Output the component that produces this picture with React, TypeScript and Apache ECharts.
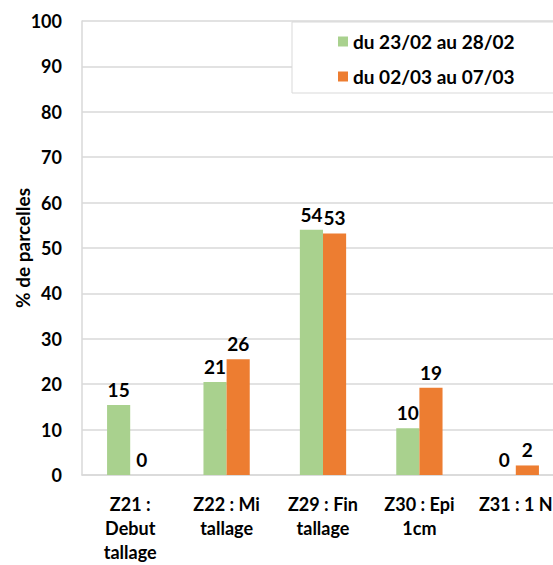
import React, { useEffect, useRef } from "react";
import * as echarts from "echarts";

const categories = [
  "Z21 :\nDebut\ntallage",
  "Z22 : Mi\ntallage",
  "Z29 : Fin\ntallage",
  "Z30 : Epi\n1cm",
  "Z31 : 1 N",
];
const seriesNames = ["du 23/02 au 28/02", "du 02/03 au 07/03"];
const period1 = [15.4, 20.5, 54.0, 10.3, 0];
const period2 = [0, 25.5, 53.2, 19.2, 2.1];
const colors = ["#a9d18e", "#ed7d31"];

const FONT = "Lato, 'Open Sans', sans-serif";

export default function App() {
  const ref = useRef<HTMLDivElement>(null);
  useEffect(() => {
    if (!ref.current) return;
    const chart = echarts.init(ref.current, undefined, { renderer: "svg" });
    const labelCfg = {
      show: true,
      position: "top",
      distance: 6,
      fontFamily: FONT,
      fontWeight: "bold",
      fontSize: 19,
      color: "#000",
      formatter: (p: any) => String(Math.round(p.value)),
    };
    chart.setOption({
      animation: false,
      textStyle: { fontFamily: FONT },
      legend: {
        orient: "vertical",
        left: 292,
        top: 22,
        padding: [10, 50, 7, 46],
        itemGap: 16,
        itemWidth: 10,
        itemHeight: 10,
        icon: "rect",
        backgroundColor: "#fff",
        borderColor: "#d9d9d9",
        borderWidth: 1,
        textStyle: { fontFamily: FONT, fontWeight: "bold", fontSize: 19, color: "#000" },
        data: seriesNames,
      },
      grid: {
        left: 82,
        right: -11,
        top: 21,
        bottom: 90,
        containLabel: false,
        outerBoundsMode: "none",
      },
      xAxis: {
        type: "category",
        data: categories,
        axisLine: { lineStyle: { color: "#d9d9d9", width: 1.5 } },
        axisTick: { show: false },
        axisLabel: {
          fontFamily: FONT,
          fontWeight: "bold",
          fontSize: 18,
          color: "#000",
          lineHeight: 24,
          margin: 17,
          interval: 0,
        },
      },
      yAxis: {
        type: "value",
        min: 0,
        max: 100,
        interval: 10,
        name: "% de parcelles",
        nameLocation: "middle",
        nameRotate: 90,
        nameGap: 50,
        nameMoveOverlap: false,
        nameTextStyle: { fontFamily: FONT, fontWeight: "bold", fontSize: 19, color: "#000" },
        axisLine: { show: true, lineStyle: { color: "#d9d9d9", width: 1.5 } },
        axisTick: { show: false },
        splitLine: { lineStyle: { color: "#d9d9d9", width: 1.5 } },
        axisLabel: {
          fontFamily: FONT,
          fontWeight: "bold",
          fontSize: 18,
          color: "#000",
          margin: 20,
        },
      },
      series: [
        {
          name: seriesNames[0],
          type: "bar",
          data: period1,
          itemStyle: { color: colors[0] },
          barGap: "0%",
          barCategoryGap: "52%",
          label: labelCfg,
        },
        {
          name: seriesNames[1],
          type: "bar",
          data: period2,
          itemStyle: { color: colors[1] },
          barGap: "0%",
          barCategoryGap: "52%",
          label: labelCfg,
        },
      ],
    });
    return () => chart.dispose();
  }, []);
  return <div ref={ref} style={{ width: 553, height: 565, position: "absolute", left: 0, top: 0 }} />;
}
